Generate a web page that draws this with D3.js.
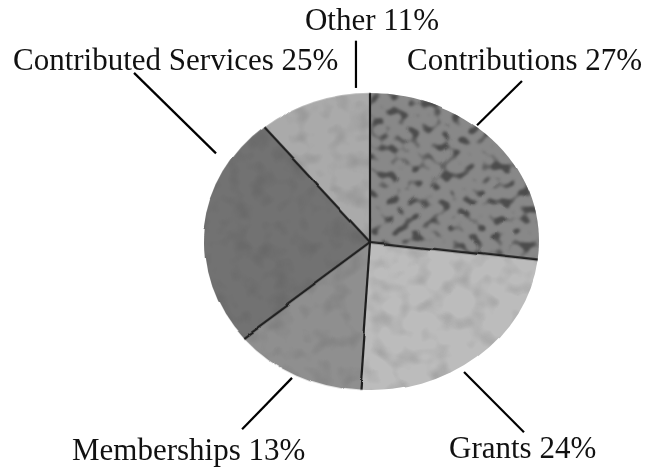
<!DOCTYPE html>
<html>
<head>
<meta charset="utf-8">
<script src="https://cdn.jsdelivr.net/npm/d3@7"></script>
<style>
    body { margin: 0; background: #fff; }
    svg text { font-family: "Liberation Serif", "Times New Roman", serif; font-size: 31px; fill: #111; }
</style>
</head>
<body>
<svg id="chart"></svg>
<script>
// slice data, clockwise from 12 o'clock
const categories = ["Contributions", "Grants", "Memberships", "Contributed Services", "Other"];
const shares = [27, 24, 13, 25, 11];
const sliceColors = ["#888888", "#bcbcbc", "#8f8f8f", "#727272", "#aaaaaa"];
const sliceTextures = ["spots", "mottle", "mottle", "mottle", "mottle"];

class BlobPie {
    margin = { top: 0, right: 0, bottom: 0, left: 0 }

    constructor(svg, width = 657, height = 469) {
        this.svg = svg;
        this.width = width;
        this.height = height;
        this.cx = 371;
        this.cy = 242;
        this.rx = 167;   // the pie is a bit wider than tall
        this.ry = 149;
    }

    initialize() {
        this.svg = d3.select(this.svg)
            .attr("width", this.width)
            .attr("height", this.height);

        const defs = this.svg.append("defs");

        // dark sponge-like spots
        const spots = defs.append("filter").attr("id", "spots")
            .attr("color-interpolation-filters", "sRGB");
        spots.append("feTurbulence")
            .attr("type", "fractalNoise").attr("baseFrequency", 0.1)
            .attr("numOctaves", 1).attr("seed", 11).attr("result", "noise");
        spots.append("feColorMatrix").attr("in", "noise").attr("type", "matrix")
            .attr("values", "0 0 0 0 0.3  0 0 0 0 0.3  0 0 0 0 0.3  -7 0 0 0 3.3")
            .attr("result", "dots");
        spots.append("feGaussianBlur").attr("in", "dots").attr("stdDeviation", 1.1).attr("result", "soft");
        spots.append("feComposite").attr("in", "soft").attr("in2", "SourceGraphic")
            .attr("operator", "in").attr("result", "clipped");
        const sm = spots.append("feMerge");
        sm.append("feMergeNode").attr("in", "SourceGraphic");
        sm.append("feMergeNode").attr("in", "clipped");

        // soft blotchy texture
        const mottle = defs.append("filter").attr("id", "mottle")
            .attr("color-interpolation-filters", "sRGB");
        mottle.append("feTurbulence")
            .attr("type", "fractalNoise").attr("baseFrequency", 0.05)
            .attr("numOctaves", 2).attr("seed", 4).attr("result", "noise");
        mottle.append("feColorMatrix").attr("in", "noise").attr("type", "matrix")
            .attr("values", "0 0 0 0 0.25  0 0 0 0 0.25  0 0 0 0 0.25  -0.5 0 0 0 0.26")
            .attr("result", "blot");
        mottle.append("feComposite").attr("in", "blot").attr("in2", "SourceGraphic")
            .attr("operator", "in").attr("result", "clipped");
        const mm = mottle.append("feMerge");
        mm.append("feMergeNode").attr("in", "SourceGraphic");
        mm.append("feMergeNode").attr("in", "clipped");

        // slightly uneven, soft outline
        const rough = defs.append("filter").attr("id", "rough")
            .attr("color-interpolation-filters", "sRGB")
            .attr("x", "-5%").attr("y", "-5%").attr("width", "110%").attr("height", "110%");
        rough.append("feTurbulence")
            .attr("type", "fractalNoise").attr("baseFrequency", 0.007)
            .attr("numOctaves", 1).attr("seed", 2).attr("result", "warp");
        rough.append("feDisplacementMap").attr("in", "SourceGraphic").attr("in2", "warp")
            .attr("scale", 7).attr("xChannelSelector", "R").attr("yChannelSelector", "G")
            .attr("result", "moved");
        rough.append("feGaussianBlur").attr("in", "moved").attr("stdDeviation", 0.7);

        this.wrap = this.svg.append("g").attr("filter", "url(#rough)");
        this.container = this.wrap.append("g")
            .attr("transform", `translate(${this.cx}, ${this.cy}) scale(1, ${this.ry / this.rx})`);
        this.labels = this.svg.append("g");
    }

    update(data) {
        const pie = d3.pie().sort(null).value(d => d.share);
        const arc = d3.arc().innerRadius(0).outerRadius(this.rx);
        const arcs = pie(data);

        this.container.selectAll("path.slice")
            .data(arcs)
            .join("path")
            .attr("class", "slice")
            .attr("d", arc)
            .attr("fill", d => d.data.color)
            .attr("filter", d => `url(#${d.data.texture})`);

        // dark divider lines between slices
        this.container.selectAll("line.divider")
            .data(arcs)
            .join("line")
            .attr("class", "divider")
            .attr("x1", 0).attr("y1", 0)
            .attr("x2", d => this.rx * Math.sin(d.startAngle))
            .attr("y2", d => -this.rx * Math.cos(d.startAngle))
            .attr("stroke", "#1e1e1e")
            .attr("stroke-width", 2.2)
            .attr("vector-effect", "non-scaling-stroke");

        // leader lines, end points given relative to the pie radii
        const px = n => this.cx + n * this.rx;
        const py = n => this.cy + n * this.ry;

        this.labels.selectAll("line")
            .data(data)
            .join("line")
            .attr("x1", d => px(d.lead[0])).attr("y1", d => py(d.lead[1]))
            .attr("x2", d => px(d.lead[2])).attr("y2", d => py(d.lead[3]))
            .attr("stroke", "#000")
            .attr("stroke-width", 2.2);

        this.labels.selectAll("text")
            .data(data)
            .join("text")
            .attr("x", d => d.textAt[0])
            .attr("y", d => d.textAt[1])
            .attr("text-anchor", d => d.textAt[2])
            .text(d => `${d.name} ${d.share}%`);
    }
}

// label placement (layout only)
const leaders = [
    [0.635, -0.784, 0.904, -1.081],
    [0.557, 0.872, 0.916, 1.277],
    [-0.473, 0.912, -0.772, 1.257],
    [-0.928, -0.595, -1.419, -1.135],
    [-0.09, -1.034, -0.09, -1.351]
];
const textSpots = [
    [407, 70, "start"],
    [449, 458, "start"],
    [72, 460, "start"],
    [13, 70, "start"],
    [372, 30, "middle"]
];

const data = categories.map((name, i) => ({
    name: name,
    share: shares[i],
    color: sliceColors[i],
    texture: sliceTextures[i],
    lead: leaders[i],
    textAt: textSpots[i]
}));

const chart = new BlobPie(document.getElementById("chart"));
chart.initialize();
chart.update(data);
</script>
</body>
</html>
